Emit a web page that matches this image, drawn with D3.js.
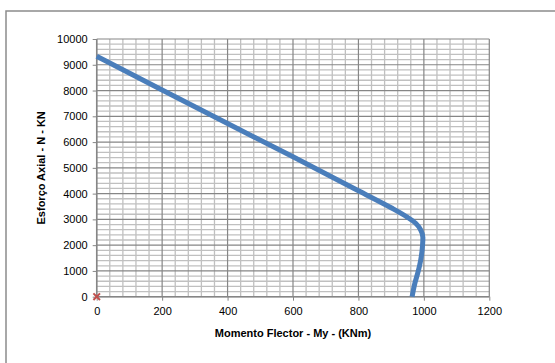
<!DOCTYPE html>
<html><head><meta charset="utf-8">
<script src="https://cdn.jsdelivr.net/npm/d3@7"></script>
<style>body{margin:0;background:#fff}svg{display:block}text{font-family:"Liberation Sans",Arial,sans-serif}</style>
</head><body>
<svg id="c" width="555" height="363"></svg>
<script>
const moment = [0, 200, 400, 600, 800, 900, 950, 975, 990, 997, 996, 990, 983, 972, 964];
const axial  = [9330, 8020, 6720, 5430, 4110, 3450, 3080, 2850, 2600, 2300, 2000, 1400, 1000, 500, 0];
const markerPoint = [{m: 0, n: 0}];
const xTicks = [0, 200, 400, 600, 800, 1000, 1200];
const yTicks = [0, 1000, 2000, 3000, 4000, 5000, 6000, 7000, 8000, 9000, 10000];
const xTitle = "Momento Flector - My - (KNm)";
const yTitle = "Esforço Axial - N - KN";

const svg = d3.select("#c");
const L = 96.7, R = 489.3, T = 39, B = 296.7;
const x = d3.scaleLinear().domain([0, 1200]).range([L, R]);
const y = d3.scaleLinear().domain([0, 10000]).range([B, T]);

// outer chart border
svg.append("rect").attr("x", 6).attr("y", 11).attr("width", 600).attr("height", 400)
  .attr("fill", "none").attr("stroke", "#8c8c8c").attr("stroke-width", 1.5);

const g = svg.append("g");
// minor grid
const xMinor = d3.range(0, 1200.1, 40).filter(v => v % 200 !== 0);
const yMinor = d3.range(0, 10000.1, 200).filter(v => v % 1000 !== 0);
g.selectAll(".xm").data(xMinor).join("line")
  .attr("x1", d => x(d)).attr("x2", d => x(d)).attr("y1", T).attr("y2", B)
  .attr("stroke", "#c0c0c0").attr("stroke-width", 1.3);
g.selectAll(".ym").data(yMinor).join("line")
  .attr("x1", L).attr("x2", R).attr("y1", d => y(d)).attr("y2", d => y(d))
  .attr("stroke", "#c0c0c0").attr("stroke-width", 1.3);
// major grid
g.selectAll(".xM").data(xTicks).join("line")
  .attr("x1", d => x(d)).attr("x2", d => x(d)).attr("y1", T).attr("y2", B)
  .attr("stroke", "#868686").attr("stroke-width", 1.2);
g.selectAll(".yM").data(yTicks).join("line")
  .attr("x1", L).attr("x2", R).attr("y1", d => y(d)).attr("y2", d => y(d))
  .attr("stroke", "#868686").attr("stroke-width", 1.2);

// axes
const xAxis = d3.axisBottom(x).tickValues(xTicks).tickSize(4).tickPadding(7).tickFormat(d3.format("d"));
const yAxis = d3.axisLeft(y).tickValues(yTicks).tickSize(4).tickPadding(5).tickFormat(d3.format("d"));
const gx = svg.append("g").attr("transform", `translate(0,${B})`).call(xAxis);
const gy = svg.append("g").attr("transform", `translate(${L},0)`).call(yAxis);
[gx, gy].forEach(a => {
  a.selectAll("path.domain").attr("stroke", "#868686").attr("stroke-width", 1.5);
  a.selectAll(".tick line").attr("stroke", "#868686");
  a.selectAll(".tick text").attr("font-size", 11).attr("fill", "#000")
    .attr("font-family", "'Liberation Sans',Arial,sans-serif");
});
gy.select("path.domain").attr("d", `M0,${B}V${T}`);
gx.select("path.domain").attr("d", `M${L},0H${R}`);

// curve
const pts = moment.map((m, i) => ({m, n: axial[i]}));
svg.append("path").datum(pts)
  .attr("d", d3.line().x(d => x(d.m)).y(d => y(d.n)).curve(d3.curveMonotoneY))
  .attr("fill", "none").attr("stroke", "#4a7ebb").attr("stroke-width", 5)
  .attr("stroke-linejoin", "round");

// marker
svg.selectAll(".mk").data(markerPoint).join("path")
  .attr("d", d3.symbol(d3.symbolCross2 || d3.symbolX, 30))
  .attr("transform", d => `translate(${x(d.m)},${y(d.n)})`)
  .attr("fill", "none").attr("stroke", "#c0504d").attr("stroke-width", 2);

// titles
svg.append("text").attr("x", (L + R) / 2).attr("y", 337).attr("text-anchor", "middle")
  .attr("font-size", 11).attr("font-weight", "bold").text(xTitle);
svg.append("text").attr("transform", `translate(45,${(T + B) / 2}) rotate(-90)`)
  .attr("text-anchor", "middle").attr("font-size", 11).attr("font-weight", "bold").text(yTitle);
</script>
</body></html>
